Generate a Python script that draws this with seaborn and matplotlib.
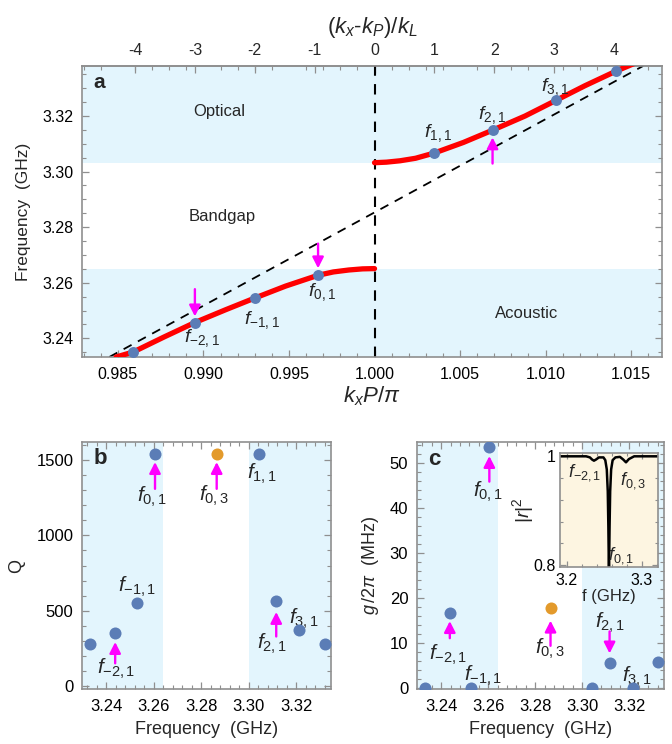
import matplotlib
matplotlib.use("Agg")
import matplotlib.pyplot as plt
import seaborn as sns
import pandas as pd
from matplotlib.ticker import MultipleLocator

# ---------------- data ----------------
KL = 0.0035  # k_L in units of pi/P (top axis scale)

# panel a: dispersion curve, lower (acoustic) and upper (optical) branches
kx_lo = [0.9849, 0.9859, 0.9877, 0.9895, 0.9913, 0.9930, 0.9948, 0.9967, 0.9976, 0.9985, 0.9993, 1.0000]
f_lo = [3.2333, 3.2351, 3.2405, 3.2457, 3.2503, 3.2545, 3.2588, 3.2627, 3.2639, 3.2646, 3.2650, 3.2651]
kx_up = [1.0000, 1.0007, 1.0015, 1.0024, 1.0035, 1.0052, 1.0069, 1.0088, 1.0106, 1.0123, 1.0141, 1.0158]
f_up = [3.3032, 3.3034, 3.3039, 3.3048, 3.3067, 3.3105, 3.3149, 3.3200, 3.3256, 3.3309, 3.3361, 3.3405]
# modes on the curve
kx_modes = [0.9859, 0.9895, 0.9930, 0.9967, 1.0035, 1.0069, 1.0106, 1.0141]
f_modes = [3.2351, 3.2457, 3.2545, 3.2627, 3.3067, 3.3149, 3.3256, 3.3361]
# light line (dashed) end points
kx_light = [0.9845, 1.0157]
f_light = [3.2333, 3.3380]
band_acoustic_top = 3.2651
band_optical_bottom = 3.3030

# panels b, c
freq_modes = [3.2330, 3.2437, 3.2529, 3.2605, 3.3042, 3.3116, 3.3214, 3.3320]
Q_modes = [280, 355, 550, 1540, 1540, 565, 370, 280]
g_modes = [0.0, 16.7, 0.0, 53.6, 0.0, 5.4, 0.0, 5.6]
freq_f03 = [3.2865]
Q_f03 = [1540]
g_f03 = [17.7]
bc_band_low = 3.2640
bc_band_high = 3.3000

# inset: reflection |r|^2
inset_f = [3.190, 3.226, 3.231, 3.234, 3.2364, 3.239, 3.243, 3.249, 3.2515, 3.2535, 3.2548,
           3.2556, 3.2564, 3.2572, 3.2580, 3.2593, 3.2613, 3.265, 3.271, 3.2755, 3.2791,
           3.283, 3.290, 3.322]
inset_r = [0.999, 0.999, 0.997, 0.993, 0.991, 0.993, 0.997, 0.997, 0.992, 0.975, 0.935,
           0.870, 0.780, 0.870, 0.935, 0.975, 0.992, 0.997, 0.998, 0.993, 0.988,
           0.994, 0.999, 0.999]

# ---------------- style ----------------
sns.set_theme(style="white")
plt.rcParams.update({
    "font.family": ["Liberation Sans", "DejaVu Sans"],
    "mathtext.fontset": "custom",
    "mathtext.rm": "Liberation Sans",
    "mathtext.it": "Liberation Sans:italic",
    "mathtext.bf": "Liberation Sans:bold",
    "mathtext.sf": "Liberation Sans",
    "axes.unicode_minus": False,
})

BAND = "#e3f5fd"
DOT = "#5b7db6"
ORANGE = "#e39a2b"
MAG = "#ff00ff"
RED = "#ff0000"
SPINE = "#8f8f8f"
INSET_BG = "#fdf5e1"


def style_axes(ax, labelsize=11):
    for s in ax.spines.values():
        s.set_color(SPINE)
        s.set_linewidth(1.2)
    ax.tick_params(which="both", direction="in", color=SPINE, labelcolor="black",
                   labelsize=labelsize, top=True, right=True, bottom=True, left=True)
    ax.tick_params(which="major", length=5, width=0.9)
    ax.tick_params(which="minor", length=2.8, width=0.8)
    ax.tick_params(axis="x", pad=7)
    ax.tick_params(axis="y", pad=6)


def flab(n, m):
    return rf"$f_{{\mathrm{{{n},{m}}}}}$"


def arrow(ax, x, y0, y1):
    ax.annotate("", xy=(x, y1), xytext=(x, y0),
                arrowprops=dict(arrowstyle="-|>,head_length=0.55,head_width=0.28",
                                color=MAG, lw=1.7, shrinkA=0, shrinkB=0), zorder=6)


fig = plt.figure(figsize=(6.72, 7.44), dpi=100)

# ---------------- panel a ----------------
axa = fig.add_axes([0.122, 0.5202, 0.863, 0.3911])
xl_a = (0.9829, 1.0168)
yl_a = (3.2333, 3.3380)
axa.axhspan(yl_a[0] - 1, band_acoustic_top, color=BAND, lw=0, zorder=0)
axa.axhspan(band_optical_bottom, yl_a[1] + 1, color=BAND, lw=0, zorder=0)
axa.plot(kx_light, f_light, color="black", lw=1.3, ls=(0, (5, 4)), zorder=2)
axa.axvline(1.0, color="black", lw=1.5, ls=(0, (5, 4)), zorder=2)
sns.lineplot(x=kx_lo, y=f_lo, ax=axa, color=RED, lw=3.8, sort=False, estimator=None, zorder=3)
sns.lineplot(x=kx_up, y=f_up, ax=axa, color=RED, lw=3.8, sort=False, estimator=None, zorder=3)
sns.scatterplot(x=kx_modes, y=f_modes, ax=axa, color=DOT, s=62, linewidth=0, zorder=5)
axa.set_xlim(*xl_a)
axa.set_ylim(*yl_a)
style_axes(axa, 11.5)
axa.tick_params(top=False)
axa.xaxis.set_major_locator(MultipleLocator(0.005))
axa.xaxis.set_minor_locator(MultipleLocator(0.001))
axa.yaxis.set_major_locator(MultipleLocator(0.02))
axa.yaxis.set_minor_locator(MultipleLocator(0.005))
axa.xaxis.set_major_formatter(matplotlib.ticker.FormatStrFormatter("%.3f"))
axa.yaxis.set_major_formatter(matplotlib.ticker.FormatStrFormatter("%.2f"))
axa.set_xlabel(r"$k_x P/\pi$", fontsize=16, labelpad=2)
axa.set_ylabel("Frequency  (GHz)", fontsize=12.5, labelpad=8)

secax = axa.secondary_xaxis("top", functions=(lambda k: (k - 1.0) / KL, lambda n: 1.0 + n * KL))
secax.set_xticks([-4, -3, -2, -1, 0, 1, 2, 3, 4])
secax.tick_params(direction="in", color=SPINE, length=5, width=0.9, labelsize=11.5, pad=6)
secax.spines["top"].set_color(SPINE)
secax.set_xlabel(r"$(k_x$-$k_P)/k_L$", fontsize=16, labelpad=7)

axa.text(0.98391, 3.3319, "a", fontsize=15, fontweight="bold", ha="center", va="center")
axa.text(0.99091, 3.3216, "Optical", fontsize=12, ha="center", va="center")
axa.text(0.99111, 3.2838, "Bandgap", fontsize=12, ha="center", va="center")
axa.text(1.00891, 3.2490, "Acoustic", fontsize=12, ha="center", va="center")
for (x, y, n, m) in [(1.0037, 3.3137, "1", "1"), (1.00689, 3.3204, "2", "1"),
                     (1.01056, 3.3304, "3", "1"), (0.99690, 3.2568, "0", "1"),
                     (0.99341, 3.2467, "-1", "1"), (0.98991, 3.2400, "-2", "1")]:
    axa.text(x, y, flab(n, m), fontsize=14, ha="center", va="center")
arrow(axa, 1.0069, 3.3029, 3.3123)
arrow(axa, 0.9967, 3.2741, 3.2652)
arrow(axa, 0.9895, 3.2577, 3.2479)

# ---------------- panel b ----------------
xl_bc = (3.2296, 3.3347)
axb = fig.add_axes([0.1216, 0.0735, 0.371, 0.3328])
axb.axvspan(xl_bc[0] - 1, bc_band_low, color=BAND, lw=0, zorder=0)
axb.axvspan(bc_band_high, xl_bc[1] + 1, color=BAND, lw=0, zorder=0)
sns.scatterplot(x=freq_modes, y=Q_modes, ax=axb, color=DOT, s=75, linewidth=0, zorder=5, clip_on=False)
sns.scatterplot(x=freq_f03, y=Q_f03, ax=axb, color=ORANGE, s=75, linewidth=0, zorder=5)
axb.set_xlim(*xl_bc)
axb.set_ylim(-20, 1620)
style_axes(axb, 12)
axb.xaxis.set_major_locator(MultipleLocator(0.02))
axb.xaxis.set_minor_locator(MultipleLocator(0.004))
axb.yaxis.set_major_locator(MultipleLocator(500))
axb.yaxis.set_minor_locator(MultipleLocator(100))
axb.xaxis.set_major_formatter(matplotlib.ticker.FormatStrFormatter("%.2f"))
axb.set_xlabel("Frequency  (GHz)", fontsize=13, labelpad=5)
axb.set_ylabel("Q", fontsize=13, labelpad=8)
axb.text(3.2375, 1507, "b", fontsize=16, fontweight="bold", ha="center", va="center")
for (x, y, n, m) in [(3.2592, 1253, "0", "1"), (3.2852, 1264, "0", "3"), (3.3056, 1407, "1", "1"),
                     (3.2529, 657, "-1", "1"), (3.2442, 117, "-2", "1"), (3.3098, 282, "2", "1"),
                     (3.3231, 448, "3", "1")]:
    axb.text(x, y, flab(n, m), fontsize=15, ha="center", va="center")
arrow(axb, 3.2605, 1308, 1485)
arrow(axb, 3.2865, 1308, 1485)
arrow(axb, 3.2437, 152, 293)
arrow(axb, 3.3116, 330, 492)

# ---------------- panel c ----------------
axc = fig.add_axes([0.620, 0.0735, 0.368, 0.3328])
axc.axvspan(xl_bc[0] - 1, bc_band_low, color=BAND, lw=0, zorder=0)
axc.axvspan(bc_band_high, xl_bc[1] + 1, color=BAND, lw=0, zorder=0)
sns.scatterplot(x=freq_modes, y=g_modes, ax=axc, color=DOT, s=75, linewidth=0, zorder=5)
sns.scatterplot(x=freq_f03, y=g_f03, ax=axc, color=ORANGE, s=75, linewidth=0, zorder=5)
axc.set_xlim(*xl_bc)
axc.set_ylim(-0.4, 54.8)
style_axes(axc, 12)
axc.xaxis.set_major_locator(MultipleLocator(0.02))
axc.xaxis.set_minor_locator(MultipleLocator(0.004))
axc.yaxis.set_major_locator(MultipleLocator(10))
axc.yaxis.set_minor_locator(MultipleLocator(2))
axc.xaxis.set_major_formatter(matplotlib.ticker.FormatStrFormatter("%.2f"))
axc.set_xlabel("Frequency  (GHz)", fontsize=13, labelpad=5)
axc.set_ylabel(r"$g\,/2\pi$  (MHz)", fontsize=13, labelpad=6)
axc.text(3.2371, 50.9, "c", fontsize=16, fontweight="bold", ha="center", va="center")
for (x, y, n, m) in [(3.2598, 43.7, "0", "1"), (3.2432, 7.3, "-2", "1"), (3.2577, 2.5, "-1", "1"),
                     (3.2861, 8.5, "0", "3"), (3.3116, 14.3, "2", "1"), (3.3230, 2.3, "3", "1")]:
    axc.text(x, y, flab(n, m), fontsize=15, ha="center", va="center")
arrow(axc, 3.2605, 45.9, 51.6)
arrow(axc, 3.2437, 11.0, 14.8)
arrow(axc, 3.2865, 9.3, 14.9)
arrow(axc, 3.3116, 12.5, 7.6)

# ---------------- inset ----------------
axi = fig.add_axes([0.8333, 0.2379, 0.1458, 0.1532])
axi.set_facecolor(INSET_BG)
sns.lineplot(x=inset_f, y=inset_r, ax=axi, color="black", lw=1.8, sort=False, estimator=None)
axi.set_xlim(3.1911, 3.3217)
axi.set_ylim(0.797, 1.005)
style_axes(axi, 11.5)
axi.tick_params(axis="x", pad=4)
axi.tick_params(axis="y", pad=3)
axi.tick_params(which="major", length=4)
axi.tick_params(which="minor", length=2.2)
axi.set_xticks([3.2, 3.3])
axi.set_yticks([0.8, 1.0])
axi.set_yticklabels(["0.8", "1"])
axi.xaxis.set_minor_locator(MultipleLocator(0.02))
axi.yaxis.set_minor_locator(MultipleLocator(0.04))
axi.set_xlabel("f (GHz)", fontsize=12, labelpad=1)
axi.set_ylabel(r"$|r|^2$", fontsize=14, labelpad=-2)
axi.text(3.2244, 0.970, flab("-2", "1"), fontsize=13, ha="center", va="center")
axi.text(3.2884, 0.955, flab("0", "3"), fontsize=13, ha="center", va="center")
axi.text(3.2724, 0.818, flab("0", "1"), fontsize=13, ha="center", va="center")

fig.savefig("out.png", dpi=100)
